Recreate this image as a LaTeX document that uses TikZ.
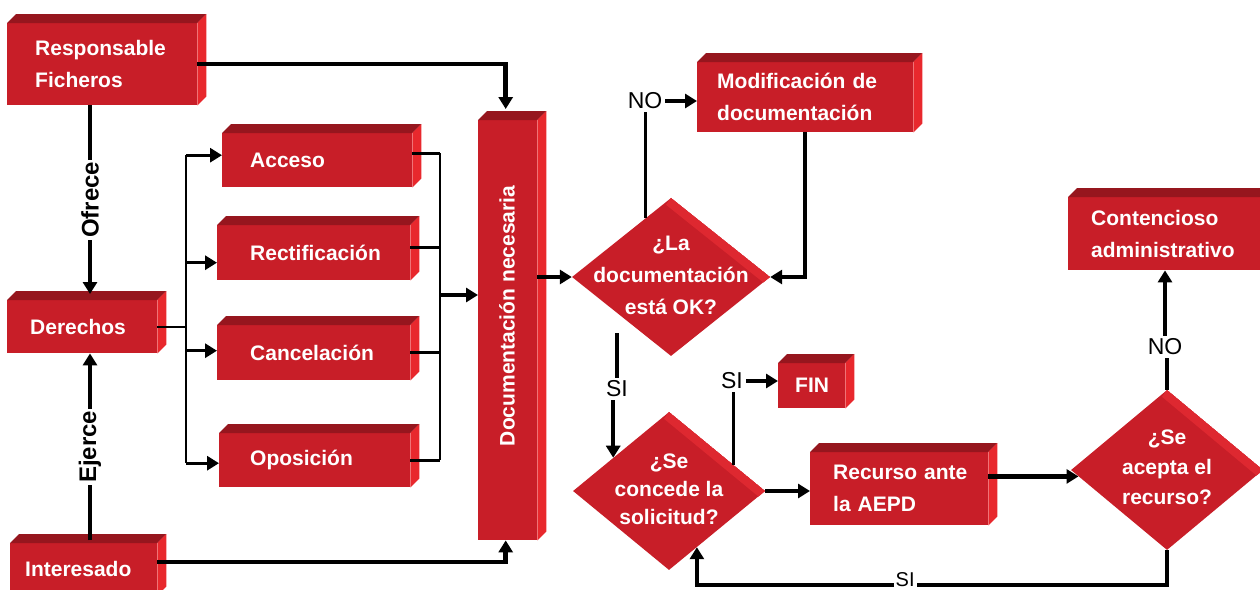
\documentclass[tikz,border=0pt]{standalone}
\usepackage{fontspec}
\setmainfont{Liberation Sans}
\usetikzlibrary{arrows.meta,calc,shapes.geometric}
\definecolor{front}{RGB}{200,30,40}
\definecolor{topface}{RGB}{150,22,30}
\definecolor{sideface}{RGB}{232,40,45}
\definecolor{band}{RGB}{222,40,48}
\newcommand\boxthree[7]{%
  \pgfmathsetmacro\boxW{#4-#2}\pgfmathsetmacro\boxH{#5-#3}%
  \def\NL{\\\hspace*{#6pt}}%
  \node[box3d, minimum height=\boxH pt, text width=\boxW pt, anchor=north west] (#1) at (#2,#3) {\hspace*{#6pt}#7};
  \fill[topface] (#1.north west) -- ([shift={(9pt,9pt)}]#1.north west) -- ([shift={(9pt,9pt)}]#1.north east) -- (#1.north east) -- cycle;
  \fill[sideface] (#1.north east) -- ([shift={(9pt,9pt)}]#1.north east) -- ([shift={(9pt,9pt)}]#1.south east) -- (#1.south east) -- cycle;
}
\newcommand\dband[1]{%
  \begin{scope}
    \clip (#1.north) -- (#1.east) -- (#1.south) -- (#1.west) -- cycle;
    \fill[band] (#1.north) -- (#1.east) -- ([shift={(-5pt,-7pt)}]#1.east) -- ([shift={(-5pt,-7pt)}]#1.north) -- cycle;
  \end{scope}
}
\begin{document}
\begin{tikzpicture}[x=1pt,y=-1pt,
  box3d/.style={fill=front, inner xsep=0pt, inner ysep=0pt, align=left, text=white,
    font=\bfseries\fontsize{21}{32}\selectfont},
  dia/.style={diamond, fill=front, inner sep=0pt},
  dtext/.style={text=white, align=center, inner sep=0pt},
  lbl/.style={font=\fontsize{23}{25}\selectfont, inner sep=3pt},
  vlbl/.style={rotate=90, fill=white, font=\bfseries\fontsize{24}{26}\selectfont, inner sep=2pt},
  thk/.style={line width=4.5pt},
  mid/.style={line width=3.2pt},
  thn/.style={line width=2.2pt},
  >={Triangle[length=12pt,width=14pt]}
]
\useasboundingbox (0,0) rectangle (1260,589);
\clip (0,0) rectangle (1260,589);

% boxes
\boxthree{resp}{7}{23}{197}{105}{28}{Responsable\NL Ficheros}
\boxthree{drv}{7}{300}{157}{353}{23}{Derechos}
\boxthree{int}{10}{543}{157}{595}{15}{Interesado}
\boxthree{acc}{222}{133}{412}{187}{28}{Acceso}
\boxthree{rect}{217}{225}{410}{280}{33}{Rectificación}
\boxthree{canc}{217}{325}{410}{380}{33}{Cancelación}
\boxthree{opo}{219}{433}{410}{487}{31}{Oposición}
\boxthree{doc}{478}{120}{537}{540}{0}{}
\node[rotate=90, text=white, font=\bfseries\fontsize{21}{24}\selectfont] (doct) at (507,316) {Documentación necesaria};
\boxthree{mod}{697}{62}{913}{132}{20}{Modificación de\NL documentación}
\boxthree{cont}{1068}{197}{1275}{270}{23}{Contencioso\NL administrativo}
\boxthree{fin}{778}{363}{845}{408}{17}{FIN}
\boxthree{rec}{810}{452}{988}{525}{23}{Recurso ante\NL la AEPD}

% diamonds
\node[dia, minimum width=198pt, minimum height=158pt] (d1) at (671,277) {};
\dband{d1}
\node[dtext, font=\bfseries\fontsize{21}{32}\selectfont] (d1t) at (671,275) {¿La\\documentación\\está OK?};
\node[dia, minimum width=192pt, minimum height=158pt] (d2) at (669,491) {};
\dband{d2}
\node[dtext, font=\bfseries\fontsize{21}{28}\selectfont] (d2t) at (669,489) {¿Se\\concede la\\solicitud?};
\node[dia, minimum width=192pt, minimum height=160pt] (d3) at (1167,470) {};
\dband{d3}
\node[dtext, font=\bfseries\fontsize{21}{30}\selectfont] (d3t) at (1167,467) {¿Se\\acepta el\\recurso?};

% helper coordinates
\coordinate (xo) at (90,0);
\coordinate (bl) at (186,0);
\coordinate (br) at (440,0);
\coordinate (jr) at (440,295);
\coordinate (bot) at (0,585);
\coordinate (drvtop) at ([yshift=6pt]drv.north);
\coordinate (inttop) at ([yshift=3pt]int.north);
\coordinate (docin1) at ([xshift=-2pt,yshift=11pt]doc.north);
\coordinate (docin2) at ([xshift=-2pt]doc.south);
\coordinate (intout) at ([yshift=7pt]int.east);
\coordinate (accin) at ([yshift=5pt]acc.west);
\coordinate (rectin) at ([yshift=-10pt]rect.west);
\coordinate (cancin) at ([yshift=2pt]canc.west);
\coordinate (opoin) at ([yshift=-3pt]opo.west);
\coordinate (accout) at ([yshift=7pt]acc.east);
\coordinate (rectout) at ([yshift=5pt]rect.east);
\coordinate (cancout) at (canc.east);
\coordinate (opoout) at (opo.east);
\coordinate (d1no) at ($(d1.west)!0.74!(d1.north)$);
\coordinate (d1si) at (617,333);
\coordinate (d2in) at ($(d2.west)!0.42!(d2.north)$);
\coordinate (d2fin) at ($(d2.north)!0.67!(d2.east)$);
\coordinate (d3in) at ($(d3.west)!0.08!(d3.south)$);
\coordinate (d2back) at ($(d2.south)!0.29!(d2.east)$);

% connectors left part
\draw[thk,->] (resp.east) -| (docin1);
\draw[mid,->] (resp.south -| xo) -- node[vlbl] (ofr) {Ofrece} (drvtop -| xo);
\draw[mid,->] (inttop -| xo) -- node[vlbl] (ejr) {Ejerce} (drv.south -| xo);
\draw[thn] (drv.east) -- (drv.east -| bl);
\draw[thn] (accin -| bl) -- (opoin -| bl);
\foreach \t in {accin,rectin,cancin,opoin} \draw[mid,->] (\t -| bl) -- (\t);
\foreach \t in {accout,rectout,cancout,opoout} \draw[mid] (\t) -- (\t -| br);
\draw[thn] (accout -| br) -- (opoout -| br);
\draw[thk,->] (jr) -- (jr -| doc.west);
\draw[thk,->] (intout) -| (docin2);

% right part
\draw[thk,->] (doc.east |- d1.west) -- (d1.west);
\node[lbl] (no1) at (645,101) {NO};
\draw[mid] (d1no) -- (d1no |- no1.south);
\draw[thk,->] (no1.east) -- (no1.east -| mod.west);
\draw[thk,->] (mod.south) |- (d1.east);
\node[lbl] (si1) at (617,389) {SI};
\draw[mid] (d1si) -- (d1si |- si1.north);
\draw[thk,->] (d2in |- si1.south) -- (d2in);
\node[lbl] (si2) at (732,381) {SI};
\draw[mid] (d2fin) -- (d2fin |- si2.south);
\draw[thk,->] (si2.east) -- (si2.east -| fin.west);
\draw[thk,->] (d2.east) -- (d2.east -| rec.west);
\draw[thk,->] (rec.east |- d3in) -- (d3in);
\node[lbl] (no2) at (1165,347) {NO};
\draw[mid] (d3.north) -- (d3.north |- no2.south);
\draw[thk,->] (no2.north) -- (no2.north |- cont.south);
\draw[thk,->] (d3.south) -- (d3.south |- bot) -- node[lbl, fill=white, pos=0.557, font=\fontsize{20}{22}\selectfont, inner sep=2pt, yshift=5pt] (si3) {SI} (d2back |- bot) -- (d2back);
\end{tikzpicture}
\end{document}
